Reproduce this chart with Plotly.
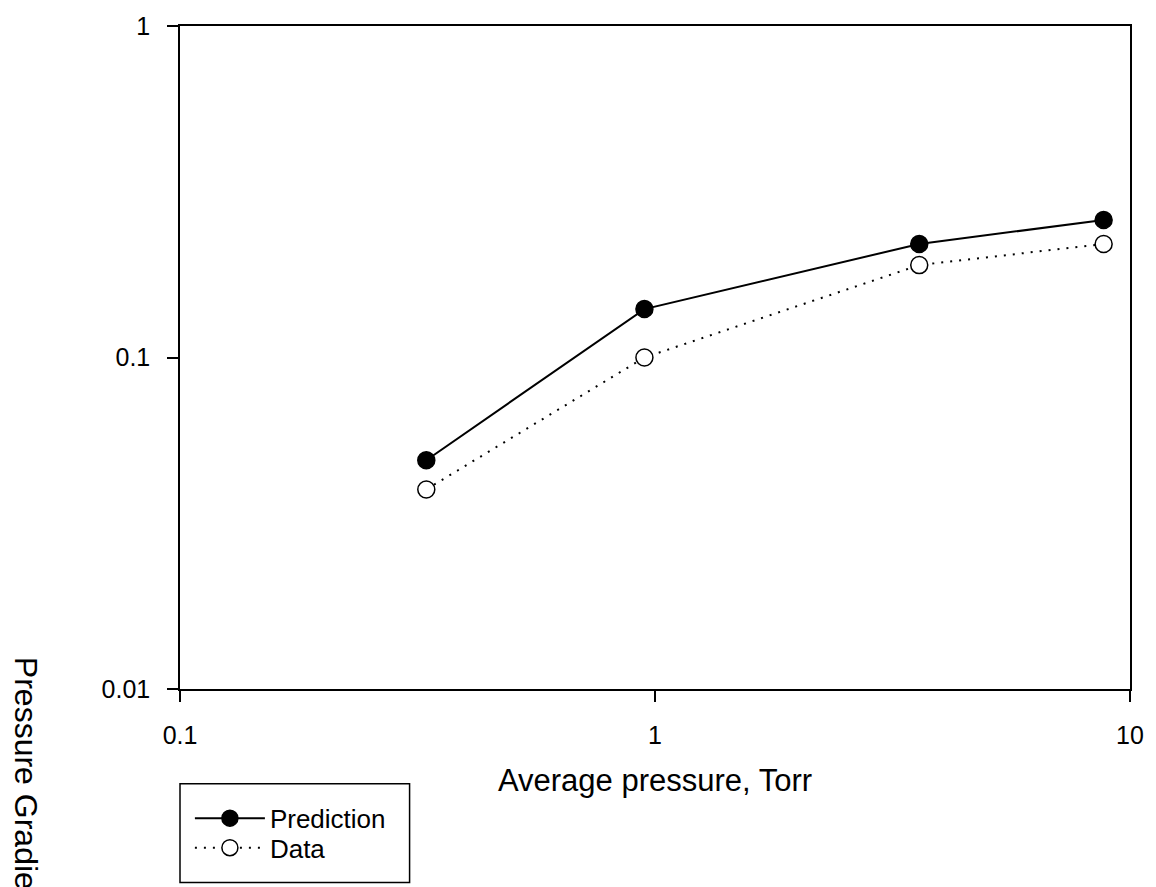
import plotly.graph_objects as go

W, H = 1156, 887

pressure = [0.33, 0.95, 3.6, 8.8]
prediction = [0.049, 0.14, 0.22, 0.26]
data = [0.040, 0.100, 0.19, 0.22]

x_ticks = [0.1, 1, 10]
x_ticktext = ["0.1", "1", "10"]
y_ticks = [0.01, 0.1, 1]
y_ticktext = ["0.01", "0.1", "1"]

FONT = "Liberation Sans, Arial, sans-serif"

L, R, T, B = 180, 16, 17, 198
PW, PH = W - L - R, H - T - B


def px_x(px):
    return (px - L) / PW


def px_y(py):
    return (H - B - py) / PH


fig = go.Figure()
fig.add_trace(go.Scatter(
    x=pressure, y=prediction, name="Prediction", mode="lines+markers",
    line=dict(color="black", width=2),
    marker=dict(symbol="circle", size=17, color="black", line=dict(color="black", width=1.5)),
    legend="legend",
))
fig.add_trace(go.Scatter(
    x=pressure, y=data, name="Data", mode="lines+markers",
    line=dict(color="black", width=2, dash="2px,7px"),
    marker=dict(symbol="circle", size=17, color="white", line=dict(color="black", width=1.5)),
    legend="legend2",
))

axis_common = dict(
    showline=True, linecolor="black", linewidth=1.5, mirror=True,
    ticks="outside", ticklen=11, tickwidth=1.5, tickcolor="black",
    showgrid=False, zeroline=False, ticklabelstandoff=12,
    tickfont=dict(family=FONT, size=25, color="black"),
)
fig.update_xaxes(type="log", range=[-1, 1], tickvals=x_ticks, ticktext=x_ticktext,
                 title=dict(text="Average pressure, Torr", font=dict(family=FONT, size=31, color="black"), standoff=22),
                 **axis_common)
fig.update_yaxes(type="log", range=[-2, 0], tickvals=y_ticks, ticktext=y_ticktext, **axis_common)

# rotated y title (clipped at bottom, as in reference)
fig.add_annotation(
    text="Pressure Gradient, Torr/cm", textangle=90, showarrow=False,
    xref="paper", yref="paper",
    x=px_x(24), y=px_y(654),
    xanchor="center", yanchor="top",
    font=dict(family=FONT, size=32, color="black"),
)

# legend box
fig.add_shape(type="rect", xref="paper", yref="paper",
              x0=0, x1=px_x(412), y0=px_y(885), y1=px_y(785),
              line=dict(color="black", width=1.5), fillcolor="rgba(0,0,0,0)")

leg_common = dict(
    xanchor="left", yanchor="middle",
    bgcolor="rgba(0,0,0,0)", borderwidth=0,
    font=dict(family=FONT, size=26, color="black"),
    itemwidth=70,
)

fig.update_layout(
    width=W, height=H,
    margin=dict(l=L, r=R, t=T, b=B),
    paper_bgcolor="white", plot_bgcolor="white",
    showlegend=True,
    legend=dict(x=px_x(190), y=px_y(820), **leg_common),
    legend2=dict(x=px_x(190), y=px_y(850), **leg_common),
)

fig.write_html("out.html")
